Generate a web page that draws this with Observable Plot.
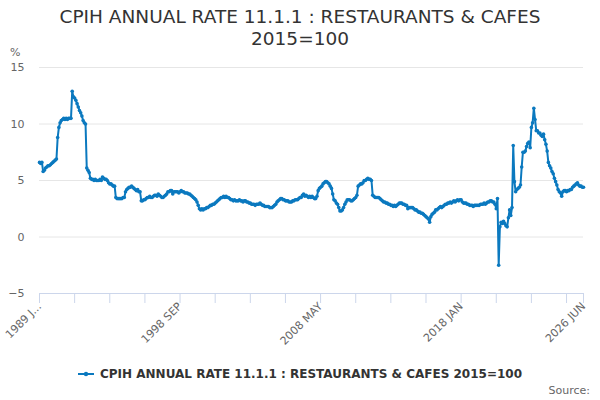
<!DOCTYPE html>
<html>
<head>
<meta charset="utf-8">
<script src="https://cdn.jsdelivr.net/npm/d3@7"></script>
<script src="https://cdn.jsdelivr.net/npm/@observablehq/plot@0.6"></script>
<style>
  html, body { margin: 0; padding: 0; background: #ffffff; }
  body { font-family: "DejaVu Sans", sans-serif; }
  #wrap { position: relative; width: 600px; height: 400px; overflow: hidden; background: #fff; }
  #chart { position: absolute; left: 0; top: 0; }
  #title { position: absolute; left: 0; top: 6px; width: 600px; text-align: center;
           font-size: 18.5px; line-height: 22px; color: #333333; }
  #unit { position: absolute; left: 10px; top: 46px; font-size: 11px; color: #666666; }
  #legend { position: absolute; left: 0; top: 367px; width: 600px; display: flex;
            justify-content: center; align-items: center; font-size: 12px; font-weight: bold; color: #333333; }
  #legend svg { margin-right: 6px; }
  #source { position: absolute; right: 10px; top: 384px; font-size: 11px; color: #666666; }
</style>
</head>
<body>
<div id="wrap">
  <div id="chart"></div>
  <div id="title">CPIH ANNUAL RATE 11.1.1 : RESTAURANTS &amp; CAFES<br>2015=100</div>
  <div id="unit">%</div>
  <div id="legend"></div>
  <div id="source">Source:</div>
</div>
<script>
// ---- data (monthly annual rates, %) ----
const startYear = 1989;
const monthCodes = ["JAN","FEB","MAR","APR","MAY","JUN","JUL","AUG","SEP","OCT","NOV","DEC"];
const rates = [
  /*1989*/ 6.6, 6.5, 6.6, 5.8, 5.9, 6.1, 6.2, 6.3, 6.3, 6.4, 6.5, 6.6,
  /*1990*/ 6.7, 6.8, 6.9, 8.8, 9.7, 10.1, 10.3, 10.4, 10.5, 10.4, 10.5, 10.4,
  /*1991*/ 10.5, 10.5, 10.5, 12.9, 12.4, 12.3, 12.1, 11.8, 11.5, 11.2, 11.0, 10.7,
  /*1992*/ 10.3, 10.1, 10.0, 6.1, 5.9, 5.7, 5.2, 5.1, 5.1, 5.0, 5.1, 5.0,
  /*1993*/ 5.0, 5.0, 5.1, 5.0, 5.3, 5.2, 5.1, 5.1, 5.0, 4.8, 4.7, 4.7,
  /*1994*/ 4.6, 4.5, 4.5, 3.5, 3.4, 3.4, 3.4, 3.4, 3.4, 3.5, 3.5, 4.0,
  /*1995*/ 4.2, 4.3, 4.4, 4.4, 4.5, 4.4, 4.3, 4.2, 4.1, 4.2, 4.0, 4.0,
  /*1996*/ 3.2, 3.2, 3.3, 3.3, 3.4, 3.5, 3.5, 3.6, 3.5, 3.5, 3.6, 3.7,
  /*1997*/ 3.7, 3.6, 3.8, 3.7, 3.6, 3.5, 3.5, 3.6, 3.7, 3.8, 4.0, 4.0,
  /*1998*/ 4.1, 4.1, 3.8, 4.0, 4.0, 4.0, 4.0, 3.9, 4.0, 4.1, 4.0, 4.0,
  /*1999*/ 3.9, 3.9, 3.9, 3.8, 3.8, 3.7, 3.6, 3.5, 3.4, 3.3, 3.1, 2.8,
  /*2000*/ 2.5, 2.4, 2.5, 2.4, 2.5, 2.5, 2.6, 2.6, 2.7, 2.8, 2.8, 2.9,
  /*2001*/ 2.9, 3.0, 3.1, 3.2, 3.3, 3.4, 3.5, 3.5, 3.6, 3.5, 3.6, 3.5,
  /*2002*/ 3.5, 3.4, 3.3, 3.3, 3.2, 3.3, 3.2, 3.2, 3.2, 3.3, 3.2, 3.2,
  /*2003*/ 3.1, 3.2, 3.2, 3.1, 3.1, 3.0, 3.0, 2.9, 2.9, 2.9, 2.8, 2.9,
  /*2004*/ 2.9, 2.9, 3.0, 2.9, 2.8, 2.8, 2.7, 2.7, 2.7, 2.7, 2.6, 2.6,
  /*2005*/ 2.6, 2.7, 2.8, 2.9, 3.1, 3.2, 3.3, 3.4, 3.4, 3.3, 3.3, 3.2,
  /*2006*/ 3.2, 3.2, 3.1, 3.1, 3.1, 3.2, 3.2, 3.3, 3.3, 3.3, 3.4, 3.5,
  /*2007*/ 3.5, 3.7, 3.8, 3.6, 3.7, 3.6, 3.5, 3.6, 3.5, 3.6, 3.5, 3.4,
  /*2008*/ 3.4, 3.6, 4.1, 4.3, 4.4, 4.5, 4.7, 4.8, 4.9, 4.9, 4.8, 4.7,
  /*2009*/ 4.5, 4.3, 3.8, 3.3, 3.2, 3.0, 2.9, 2.6, 2.3, 2.3, 2.4, 2.6,
  /*2010*/ 2.9, 3.1, 3.3, 3.3, 3.3, 3.2, 3.2, 3.3, 3.4, 3.5, 3.7, 4.5,
  /*2011*/ 4.6, 4.7, 4.7, 4.8, 5.0, 5.0, 5.1, 5.2, 5.1, 5.1, 5.0, 3.7,
  /*2012*/ 3.6, 3.5, 3.5, 3.5, 3.5, 3.4, 3.3, 3.2, 3.1, 3.1, 3.0, 3.0,
  /*2013*/ 2.9, 2.9, 2.8, 2.8, 2.7, 2.8, 2.7, 2.8, 2.9, 3.0, 3.0, 3.0,
  /*2014*/ 2.9, 2.9, 2.8, 2.8, 2.5, 2.6, 2.6, 2.6, 2.6, 2.5, 2.4, 2.4,
  /*2015*/ 2.3, 2.2, 2.2, 2.1, 2.1, 2.0, 1.9, 1.8, 1.7, 1.6, 1.3, 1.8,
  /*2016*/ 2.0, 2.1, 2.2, 2.4, 2.4, 2.5, 2.6, 2.7, 2.6, 2.7, 2.8, 2.9,
  /*2017*/ 2.9, 3.0, 3.0, 3.1, 3.0, 3.1, 3.2, 3.1, 3.2, 3.3, 3.2, 3.3,
  /*2018*/ 3.3, 3.1, 3.0, 3.0, 3.0, 2.9, 2.9, 2.8, 2.8, 2.8, 2.7, 2.8,
  /*2019*/ 2.8, 2.8, 2.8, 2.8, 2.9, 2.9, 2.9, 3.0, 2.9, 3.0, 3.1, 3.1,
  /*2020*/ 3.2, 3.2, 3.1, 3.1, 2.9, 2.5, 3.4, -2.5, 0.9, 1.3, 1.2, 1.4,
  /*2021*/ 1.2, 1.0, 0.9, 1.7, 2.4, 1.9, 2.6, 8.1, 4.9, 4.0, 4.2, 4.3,
  /*2022*/ 4.4, 4.6, 6.2, 7.5, 7.5, 7.6, 8.0, 8.3, 8.4, 7.9, 9.7, 10.1,
  /*2023*/ 11.4, 10.4, 9.4, 9.4, 9.2, 9.2, 9.0, 8.9, 9.1, 8.6, 8.2, 7.6,
  /*2024*/ 6.6, 6.3, 6.1, 5.8, 5.6, 5.2, 4.9, 4.6, 4.2, 4.0, 3.9, 3.6,
  /*2025*/ 4.0, 4.1, 4.1, 4.0, 4.1, 4.1, 4.2, 4.2, 4.4, 4.5, 4.6, 4.7,
  /*2026*/ 4.8, 4.6, 4.5, 4.5, 4.4, 4.4
];
const labeledTicks = ["1989 JAN", "1998 SEP", "2008 MAY", "2018 JAN", "2026 JUN"];
const labeledTickText = ["1989 J...", "1998 SEP", "2008 MAY", "2018 JAN", "2026 JUN"];
const yTicks = [-5, 0, 5, 10, 15];
const seriesName = "CPIH ANNUAL RATE 11.1.1 : RESTAURANTS & CAFES 2015=100";

// ---- build table ----
const months = rates.map((v, i) => `${startYear + Math.floor(i / 12)} ${monthCodes[i % 12]}`);
const table = rates.map((v, i) => ({month: months[i], value: v}));
const tickStep = 29;
const tickVals = months.filter((m, i) => i % tickStep === 0 && i + tickStep / 2 < months.length);
tickVals.push(months[months.length - 1]);
const tickText = new Map(labeledTicks.map((m, i) => [m, labeledTickText[i]]));

const lineColor = "#0b79bf";

const chart = Plot.plot({
  width: 600,
  height: 400,
  marginLeft: 39,
  marginRight: 17,
  marginTop: 67,
  marginBottom: 107,
  style: {fontFamily: "DejaVu Sans", fontSize: "11px", background: "transparent"},
  x: {type: "point", domain: months, padding: 0},
  y: {domain: [-5, 15]},
  marks: [
    Plot.gridY(yTicks.filter(t => t > -5), {stroke: "#e6e6e6", strokeOpacity: 1}),
    Plot.ruleY([-5], {stroke: "#ccd6eb"}),
    Plot.axisY({ticks: yTicks, tickSize: 0, tickPadding: 15, fill: "#666666", label: null}),
    Plot.axisX({ticks: tickVals, tickSize: 10, stroke: "#ccd6eb", tickFormat: () => "", label: null}),
    Plot.axisX({ticks: labeledTicks, tickSize: 0, tickPadding: 11, tickRotate: -45,
                fill: "#666666", tickFormat: d => tickText.get(d), label: null}),
    Plot.line(table, {x: "month", y: "value", stroke: lineColor, strokeWidth: 2}),
    Plot.dot(table, {x: "month", y: "value", fill: lineColor, r: 1.8})
  ]
});
document.getElementById("chart").appendChild(chart);

// legend
const legend = document.getElementById("legend");
legend.innerHTML = `<svg width="16" height="10"><line x1="0" y1="5" x2="16" y2="5" stroke="${lineColor}" stroke-width="2"/><circle cx="8" cy="5" r="2.2" fill="${lineColor}"/></svg><span></span>`;
legend.querySelector("span").textContent = seriesName;
</script>
</body>
</html>
